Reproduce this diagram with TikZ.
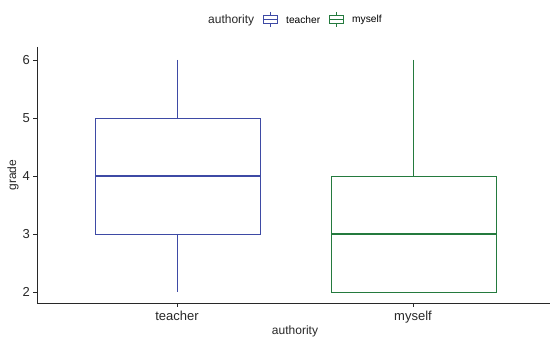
\documentclass[tikz,border=0pt]{standalone}
\usepackage{fontspec}
\setmainfont{Liberation Sans}
\usetikzlibrary{positioning}
\definecolor{teacherblue}{RGB}{62,74,165}
\definecolor{myselfgreen}{RGB}{36,122,62}
\definecolor{axisgray}{RGB}{40,40,40}

\begin{document}
\begin{tikzpicture}[
    x=1pt, y=-1pt,
    axisline/.style={draw=axisgray, line width=0.9pt},
    ticklabel/.style={font=\fontsize{13}{15}\selectfont, text=axisgray, inner sep=0pt},
    axistitle/.style={font=\fontsize{12}{14}\selectfont, text=axisgray, inner sep=0pt},
    legendlabel/.style={font=\fontsize{10.2}{12}\selectfont, inner sep=0pt, anchor=west},
    boxline/.style={line width=0.8pt},
    medianline/.style={line width=1.6pt}
]
    \useasboundingbox[fill=white] (0,0) rectangle (550,337);

    % Axes
    \coordinate (origin) at (37,303);
    \coordinate (ytop) at (37,47);
    \coordinate (xend) at (550,303);
    \draw[axisline] (ytop) -- (origin) -- (xend);

    % y ticks
    \foreach \g/\yy in {6/60, 5/118, 4/176, 3/234, 2/292} {
        \draw[axisline] (33,\yy) -- (37,\yy);
        \node[ticklabel, anchor=east] (ylab\g) at (30,\yy) {\g};
    }

    % x ticks
    \draw[axisline] (177,303) -- (177,307);
    \draw[axisline] (413,303) -- (413,307);
    \node[ticklabel, anchor=north] (xteacher) at (177,311) {teacher};
    \node[ticklabel, anchor=north] (xmyself) at (413,311) {myself};

    % Axis titles
    \node[axistitle, anchor=north] (xtitle) at (295,326) {authority};
    \node[axistitle, rotate=90] (ytitle) at (13,175) {grade};

    % Teacher box
    \coordinate (tmax) at (177,60);
    \coordinate (tq3) at (177,118);
    \coordinate (tq1) at (177,234);
    \coordinate (tmin) at (177,292);
    \draw[teacherblue, boxline] (tmax) -- (tq3);
    \draw[teacherblue, boxline] (tq1) -- (tmin);
    \draw[teacherblue, boxline] (95,118) rectangle (260,234);
    \draw[teacherblue, medianline] (95,176) -- (260,176);

    % Myself box
    \coordinate (mmax) at (413,60);
    \coordinate (mq3) at (413,176);
    \draw[myselfgreen, boxline] (mmax) -- (mq3);
    \draw[myselfgreen, boxline] (331,176) rectangle (496,292);
    \draw[myselfgreen, medianline] (331,234) -- (496,234);

    % Legend
    \node[axistitle, anchor=west] (legtitle) at (208,20) {authority};
    \draw[teacherblue, boxline] (270,12) -- (270,15.5) (270,23.5) -- (270,27);
    \draw[teacherblue, boxline] (263,15.5) rectangle (277,23.5);
    \draw[teacherblue, boxline] (263,19.5) -- (277,19.5);
    \node[legendlabel] (legteacher) at (286,20) {teacher};
    \draw[myselfgreen, boxline] (336,12) -- (336,15.5) (336,23.5) -- (336,27);
    \draw[myselfgreen, boxline] (329,15.5) rectangle (343,23.5);
    \draw[myselfgreen, boxline] (329,19.5) -- (343,19.5);
    \node[legendlabel] (legmyself) at (352,20) {myself};
\end{tikzpicture}
\end{document}
